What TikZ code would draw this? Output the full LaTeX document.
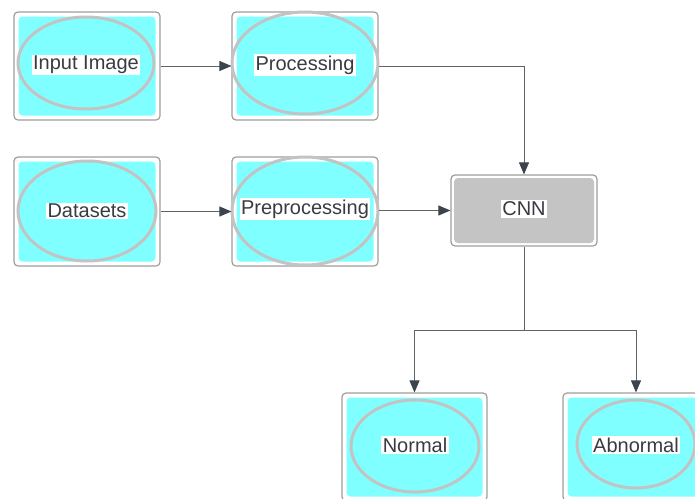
\documentclass[tikz,border=0pt]{standalone}
\usepackage{fontspec}
\setmainfont{Liberation Sans}
\usetikzlibrary{shapes.geometric,arrows.meta}
\definecolor{cyanfill}{HTML}{7FFFFF}
\definecolor{ringgray}{HTML}{C3C3C3}
\definecolor{boxgray}{HTML}{9E9E9E}
\definecolor{cnnfill}{HTML}{C4C4C4}
\definecolor{linegray}{HTML}{606468}
\definecolor{headgray}{HTML}{3B434C}
\definecolor{textgray}{HTML}{383C42}
\tikzset{
  panel/.style={draw=boxgray, line width=1.2pt, rounded corners=4pt, fill=white,
    minimum width=146pt, minimum height=108pt, inner sep=0pt,
    path picture={\fill[#1] ([shift={(4.5pt,-4.5pt)}]path picture bounding box.north west)
      rectangle ([shift={(-4.5pt,4.5pt)}]path picture bounding box.south east);}},
  panel/.default=cyanfill,
  cnnpanel/.style={draw=boxgray, line width=1.2pt, rounded corners=4pt, fill=white,
    minimum width=146pt, minimum height=71pt, inner sep=0pt,
    path picture={\fill[cnnfill] ([shift={(3pt,-3pt)}]path picture bounding box.north west)
      rectangle ([shift={(-3pt,3pt)}]path picture bounding box.south east);}},
  ring/.style={draw=ringgray, line width=3pt, ellipse, inner sep=0pt},
  lbl/.style={fill=white, text=textgray, inner sep=1.5pt,
    font=\fontsize{20}{23}\selectfont},
  link/.style={draw=linegray, line width=0.9pt},
  arrow/.style={link, -{Triangle[length=12pt,width=10pt,color=headgray]}}
}
\begin{document}
\begin{tikzpicture}[x=1pt,y=-1pt]
  \useasboundingbox (0,0) rectangle (695,498);
  \clip (0,0) rectangle (695,498);

  % top row
  \node[panel] (in) at (87,66) {};
  \node[ring, minimum width=136pt, minimum height=92pt] (in-r) at (86,63) {};
  \node[lbl] (in-t) at (86,65) {Input Image};

  \node[panel] (proc) at (305,66) {};
  \node[ring, minimum width=146pt, minimum height=102pt] (proc-r) at (305,63) {};
  \node[lbl] (proc-t) at (305,65) {Processing};

  % middle row
  \node[panel, minimum height=109pt] (ds) at (87,211.5) {};
  \node[ring, minimum width=138pt, minimum height=100pt] (ds-r) at (87,211) {};
  \node[lbl] (ds-t) at (87,211) {Datasets};

  \node[panel, minimum height=109pt] (pre) at (305,211.5) {};
  \node[ring, minimum width=146pt, minimum height=108pt] (pre-r) at (305,211) {};
  \node[lbl] (pre-t) at (305,209) {Preprocessing};

  \node[cnnpanel] (cnn) at (524,210.5) {};
  \node[lbl] (cnn-t) at (524,209) {CNN};

  % bottom row
  \node[panel, minimum width=145pt] (normal) at (414.5,447) {};
  \node[ring, minimum width=128pt, minimum height=92pt] (normal-r) at (415,446) {};
  \node[lbl] (normal-t) at (415,445) {Normal};

  \node[panel] (abnormal) at (636,447) {};
  \node[ring, minimum width=118pt, minimum height=88pt] (abnormal-r) at (636,444) {};
  \node[lbl] (abnormal-t) at (636,445) {Abnormal};

  % connectors
  \draw[arrow] (in.east) -- (proc.west);
  \draw[arrow] (ds.east) -- (pre.west);
  \draw[arrow] (pre.east |- cnn) -- (cnn.west);
  \draw[arrow] (proc.east) -| (cnn.north);
  \coordinate (split) at (524,330);
  \draw[link] (cnn.south) -- (split);
  \draw[arrow] (split) -| (normal.north);
  \draw[arrow] (split) -| (abnormal.north);
\end{tikzpicture}
\end{document}
